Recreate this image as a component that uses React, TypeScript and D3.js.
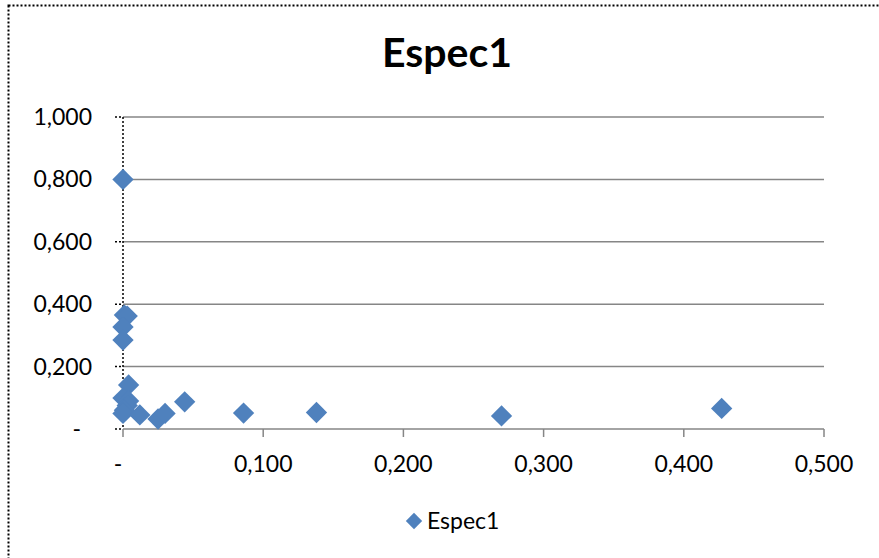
import React from "react";
import * as d3 from "d3";

const seriesName = "Espec1";
const xValues = [0.000, 0.001, 0.003, 0.000, 0.000, 0.004, 0.000, 0.004, 0.003, 0.001, 0.000, 0.012, 0.025, 0.030, 0.044, 0.086, 0.138, 0.270, 0.427];
const yValues = [0.800, 0.365, 0.362, 0.327, 0.285, 0.141, 0.099, 0.090, 0.075, 0.060, 0.050, 0.045, 0.032, 0.050, 0.087, 0.051, 0.053, 0.042, 0.066];
const xTicks = [0, 0.1, 0.2, 0.3, 0.4, 0.5];
const yTicks = [0, 0.2, 0.4, 0.6, 0.8, 1.0];

const W = 879, H = 558;
const FONT = "Lato, 'Open Sans', sans-serif";
const BLUE = "#4F81BD";
const FS = 23;

const fmt = (v: number) => (v === 0 ? "-" : d3.format(".3f")(v).replace(".", ","));

export default function App() {
  const x = d3.scaleLinear().domain([0, 0.5]).range([123, 824]);
  const y = d3.scaleLinear().domain([0, 1]).range([429, 117]);
  const diamond = d3.symbol().type(d3.symbolDiamond2).size(290)();
  const legendDiamond = d3.symbol().type(d3.symbolDiamond2).size(170)();
  const pts = xValues.map((v, i) => [v, yValues[i]]);

  return (
    <svg width={W} height={H} style={{ position: "absolute", left: 0, top: 0 }}>
      <rect x={0} y={0} width={W} height={H} fill="#fff" />
      <rect x={8.5} y={5.5} width={W + 20} height={H + 20} fill="none" stroke="#000" strokeWidth={2} strokeDasharray="2,2" />
      <text x={447} y={67} textAnchor="middle" fontFamily={FONT} fontWeight="bold" fontSize={41} fill="#000">{seriesName}</text>
      {yTicks.map((t) => (
        <g key={"y" + t}>
          {t > 0 && <line x1={123} x2={824} y1={y(t)} y2={y(t)} stroke="#868686" strokeWidth={1.5} />}
          <line x1={115} x2={123} y1={y(t)} y2={y(t)} stroke="#000" strokeWidth={1.5} strokeDasharray="2,2" />
          <text x={t === 0 ? 81 : 92} y={y(t) + 8} textAnchor="end" fontFamily={FONT} fontSize={FS} fill="#000">{fmt(t)}</text>
        </g>
      ))}
      <line x1={123} x2={824} y1={429} y2={429} stroke="#868686" strokeWidth={1.5} />
      {xTicks.map((t) => (
        <g key={"x" + t}>
          <line x1={x(t)} x2={x(t)} y1={429} y2={437} stroke="#868686" strokeWidth={1.5} />
          <text x={t === 0 ? x(t) - 5 : x(t)} y={472} textAnchor="middle" fontFamily={FONT} fontSize={FS} fill="#000">{fmt(t)}</text>
        </g>
      ))}
      <line x1={123} x2={123} y1={117} y2={429} stroke="#000" strokeWidth={1.5} strokeDasharray="2,2" />
      {pts.map((p, i) => (
        <path key={i} d={diamond as string} transform={`translate(${x(p[0])},${y(p[1])})`} fill={BLUE} />
      ))}
      <path d={legendDiamond as string} transform="translate(414,521)" fill={BLUE} />
      <text x={427} y={529} fontFamily={FONT} fontSize={FS} fill="#000">{seriesName}</text>
    </svg>
  );
}
